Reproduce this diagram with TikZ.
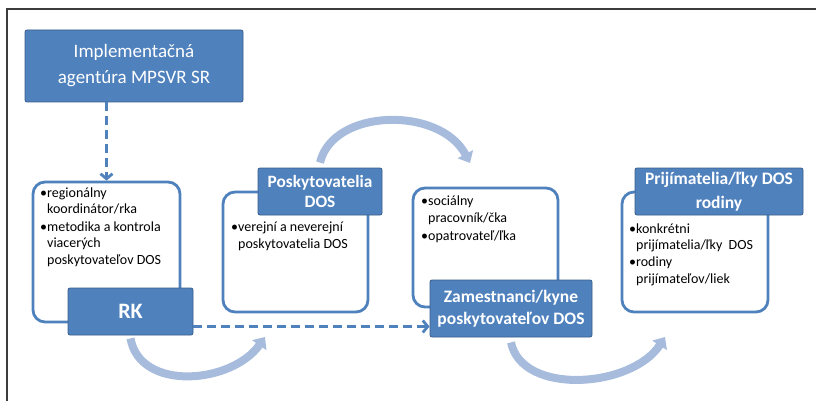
\documentclass[tikz,border=0pt]{standalone}
\usepackage{fontspec}
\setmainfont{Carlito}
\usetikzlibrary{arrows.meta}
\definecolor{smBlue}{RGB}{79,129,189}
\definecolor{smBlueDark}{RGB}{56,93,138}
\definecolor{smArc}{RGB}{167,188,221}
\definecolor{smFrame}{RGB}{60,60,60}
\newcommand{\itemBlt}{\makebox[7pt][l]{\textbullet}}
\newcommand{\itemInd}{\hspace*{7pt}}

\begin{document}
\begin{tikzpicture}[x=1pt, y=-1pt,
	frame/.style={draw=smFrame, line width=1.6pt},
	outerBox/.style={draw=smBlue, line width=2.8pt, rounded corners=12pt, fill=white, inner sep=0pt},
	titleBox/.style={draw=smBlueDark, line width=0.8pt, fill=smBlue, rounded corners=2pt, text=white, align=center, inner sep=0pt},
	itemList/.style={align=left, inner sep=0pt, anchor=base west, font=\fontsize{14}{16.3}\selectfont},
	dashArrow/.style={draw=smBlue, line width=2.8pt, dash pattern=on 9pt off 5pt, -{Straight Barb[length=5pt,width=12pt]}},
	cycleArrow/.style={draw=smArc, line width=8pt, -{Triangle[length=10pt,width=17pt]}}]
		\useasboundingbox (0,0) rectangle (816,401);
		\draw[frame] (7,401) -- (7,9) -- (816,9);

		% top
		\node[titleBox, minimum width=218pt, minimum height=72pt, font=\fontsize{19}{26}\selectfont] (agentura) at (134,66) {Implementačná\\agentúra MPSVR SR};

		% RK (lists are placed at the baseline of their last line)
		\node[outerBox, minimum width=147pt, minimum height=140pt] (rkFrame) at (106.5,252) {};
		\node[titleBox, minimum width=125pt, minimum height=47pt, font=\fontsize{22}{26}\selectfont\bfseries] (rk) at (130.5,311.5) {RK};
		\node[itemList] (rkList) at (40,264) {\itemBlt regionálny\\\itemInd koordinátor/rka\\[1.5pt]\itemBlt metodika a kontrola\\\itemInd viacerých\\\itemInd poskytovateľov DOS};

		% poskytovatelia
		\node[outerBox, minimum width=145pt, minimum height=120pt] (poskFrame) at (295.5,252) {};
		\node[titleBox, minimum width=124pt, minimum height=47pt, font=\fontsize{17.3}{19.5}\selectfont\bfseries] (posk) at (320,191.5) {Poskytovatelia\\DOS};
		\node[itemList] (poskList) at (231,248) {\itemBlt verejní a neverejní\\\itemInd poskytovatelia DOS};

		% zamestnanci
		\node[outerBox, minimum width=145pt, minimum height=119pt] (zamFrame) at (485.5,247.5) {};
		\node[titleBox, minimum width=162pt, minimum height=57pt, font=\fontsize{17.5}{22}\selectfont\bfseries] (zam) at (511,308.5) {Zamestnanci/kyne\\poskytovateľov DOS};
		\node[itemList] (zamList) at (421,240) {\itemBlt sociálny\\\itemInd pracovník/čka\\[1.5pt]\itemBlt opatrovateľ/ľka};

		% prijimatelia
		\node[outerBox, minimum width=146pt, minimum height=120pt] (prijFrame) at (695,252) {};
		\node[titleBox, minimum width=168pt, minimum height=47pt, font=\fontsize{17.5}{24}\selectfont\bfseries] (prij) at (719,191.5) {Prijímatelia/ľky DOS\\rodiny};
		\node[itemList] (prijList) at (629,283) {\itemBlt konkrétni\\\itemInd prijímatelia/ľky\ \ DOS\\[1pt]\itemBlt rodiny\\\itemInd prijímateľov/liek};

		% dashed links
		\coordinate (rkOut) at ([yshift=-15pt]rk.east);
		\draw[dashArrow] (agentura.south -| rkFrame.north) -- (rkFrame.north);
		\draw[dashArrow] (rkOut) -- (rkOut -| zam.west);

		% cycle arrows
		\coordinate (rkArcEnd) at (265,337);
		\coordinate (poskArcEnd) at (470,163);
		\coordinate (zamArcEnd) at (665,337);
		\draw[cycleArrow] ([yshift=-3pt]rk.south) .. controls (140,392) and (232,384) .. (rkArcEnd);
		\draw[cycleArrow] ([yshift=5pt]posk.north) .. controls (333,108) and (440,106) .. (poskArcEnd);
		\draw[cycleArrow] ([yshift=-5pt]zam.south) .. controls (522,396) and (632,388) .. (zamArcEnd);
		%\draw[cycleArrow] (prij.south) -- (prijFrame.south);
	\end{tikzpicture}
\end{document}
